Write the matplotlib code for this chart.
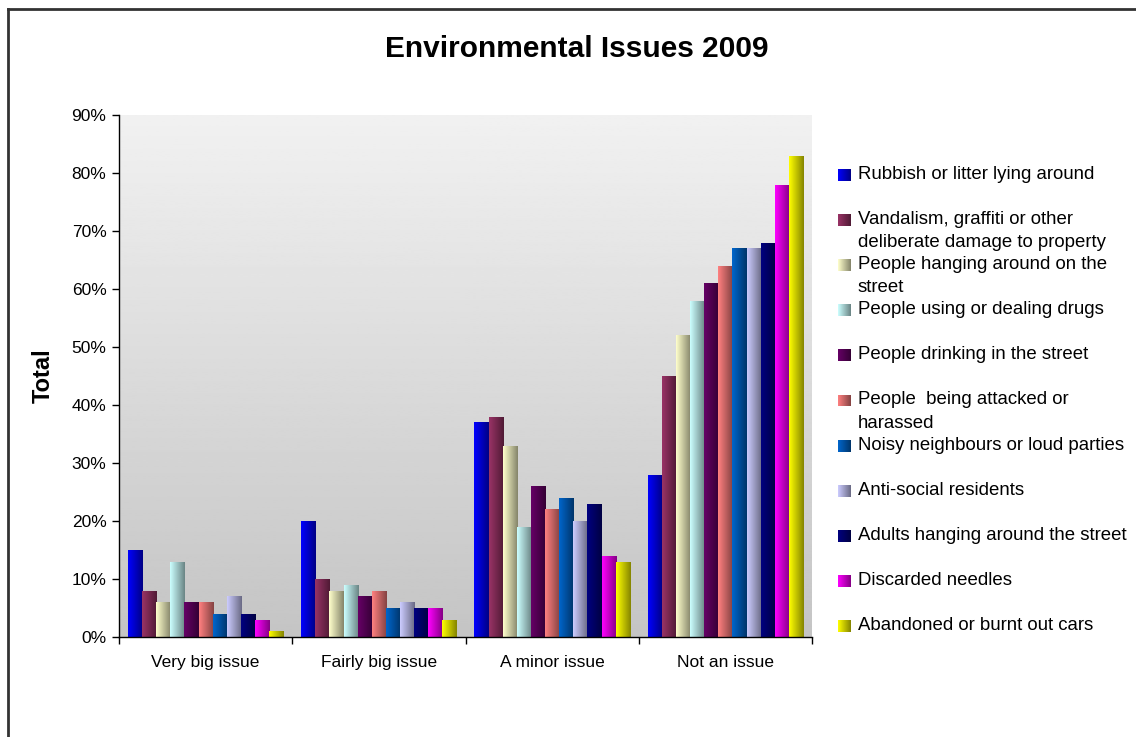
import numpy as np
import matplotlib
matplotlib.use("Agg")
import matplotlib.pyplot as plt
from matplotlib.colors import LinearSegmentedColormap, to_rgb
from matplotlib.lines import Line2D
from matplotlib.ticker import FixedLocator, FuncFormatter

plt.rcParams['font.family'] = ['Liberation Sans', 'DejaVu Sans']

categories = ["Very big issue", "Fairly big issue", "A minor issue", "Not an issue"]

series_names = [
    "Rubbish or litter lying around",
    "Vandalism, graffiti or other\ndeliberate damage to property",
    "People hanging around on the\nstreet",
    "People using or dealing drugs",
    "People drinking in the street",
    "People  being attacked or\nharassed",
    "Noisy neighbours or loud parties",
    "Anti-social residents",
    "Adults hanging around the street",
    "Discarded needles",
    "Abandoned or burnt out cars",
]

rubbish = [15, 20, 37, 28]
vandalism = [8, 10, 38, 45]
hanging_around = [6, 8, 33, 52]
drugs = [13, 9, 19, 58]
drinking = [6, 7, 26, 61]
attacked = [6, 8, 22, 64]
noisy = [4, 5, 24, 67]
antisocial = [7, 6, 20, 67]
adults = [4, 5, 23, 68]
needles = [3, 5, 14, 78]
cars = [1, 3, 13, 83]

series_values = [rubbish, vandalism, hanging_around, drugs, drinking, attacked,
                 noisy, antisocial, adults, needles, cars]

base_colors = ["#0000FF", "#993366", "#FFFFCC", "#CCFFFF", "#660066", "#FF8080",
               "#0066CC", "#CCCCFF", "#000080", "#FF00FF", "#FFFF00"]

y_ticks = list(range(0, 91, 10))


def shade_cmap(hex_color):
    c = np.array(to_rgb(hex_color))
    return LinearSegmentedColormap.from_list("shade", [c, c * 0.52])


fig = plt.figure(figsize=(11.36, 7.37), dpi=100)
ax = fig.add_axes([119 / 1136, 1 - 637 / 737, (812 - 119) / 1136, (637 - 115) / 737])

# plot-area background: vertical grey gradient
bg = np.linspace(0.77, 0.945, 256).reshape(-1, 1)
ax.imshow(bg, extent=[0, 1, 0, 1], transform=ax.transAxes, cmap="gray",
          vmin=0, vmax=1, aspect="auto", origin="lower", zorder=0)

n = len(series_values)
width = 0.0815
x = np.arange(len(categories))
grad = np.linspace(0, 1, 64).reshape(1, -1)

for i, (vals, col) in enumerate(zip(series_values, base_colors)):
    offs = (i - (n - 1) / 2) * width
    bars = ax.bar(x + offs, vals, width, facecolor="none", edgecolor="none", zorder=2)
    cmap = shade_cmap(col)
    for b in bars:
        x0, y0 = b.get_x(), b.get_y()
        im = ax.imshow(grad, extent=[x0, x0 + b.get_width(), y0, y0 + b.get_height()],
                       cmap=cmap, aspect="auto", zorder=2, interpolation="bilinear")
        im.set_clip_path(b)

ax.set_xlim(-0.5, len(categories) - 0.5)
ax.set_ylim(0, 90)
ax.set_aspect("auto")

for s in ["top", "right"]:
    ax.spines[s].set_visible(False)
ax.spines["left"].set_color("black")
ax.spines["bottom"].set_color("black")
ax.spines["left"].set_linewidth(1.0)
ax.spines["bottom"].set_linewidth(1.0)

ax.yaxis.set_major_locator(FixedLocator(y_ticks))
ax.yaxis.set_major_formatter(FuncFormatter(lambda v, p: f"{int(v)}%"))
ax.tick_params(axis="y", direction="out", length=5, width=1, labelsize=12.5, pad=4)

ax.set_xticks(x)
ax.set_xticklabels(categories)
ax.tick_params(axis="x", which="major", length=0, labelsize=12.5, pad=13)
ax.set_xticks(np.arange(len(categories) + 1) - 0.5, minor=True)
ax.tick_params(axis="x", which="minor", direction="out", length=5, width=1)

ax.set_ylabel("Total", fontsize=17, fontweight="bold")
ax.yaxis.set_label_coords((55 - 119) / 693, 0.5)

fig.text(577 / 1136, 1 - 49 / 737, "Environmental Issues 2009", ha="center",
         va="center", fontsize=21.5, fontweight="bold")

# legend drawn on the figure with shaded swatches
leg_top = 175
leg_step = 45.1
for i, (name, col) in enumerate(zip(series_names, base_colors)):
    yc = leg_top + i * leg_step
    cmap = shade_cmap(col)
    sw = fig.add_axes([838 / 1136, 1 - (yc + 6) / 737, 13 / 1136, 12 / 737])
    sw.imshow(grad, cmap=cmap, aspect="auto", extent=[0, 1, 0, 1])
    sw.set_axis_off()
    fig.text(858 / 1136, 1 - (yc - 9) / 737, name, ha="left", va="top",
             fontsize=13.4, linespacing=1.48)

# outer frame lines (top and left)
fig.add_artist(Line2D([8 / 1136, 1], [1 - 9 / 737, 1 - 9 / 737],
                      transform=fig.transFigure, color="#333333", lw=2))
fig.add_artist(Line2D([8 / 1136, 8 / 1136], [0, 1 - 9 / 737],
                      transform=fig.transFigure, color="#333333", lw=2))

fig.savefig("out.png", dpi=100)
